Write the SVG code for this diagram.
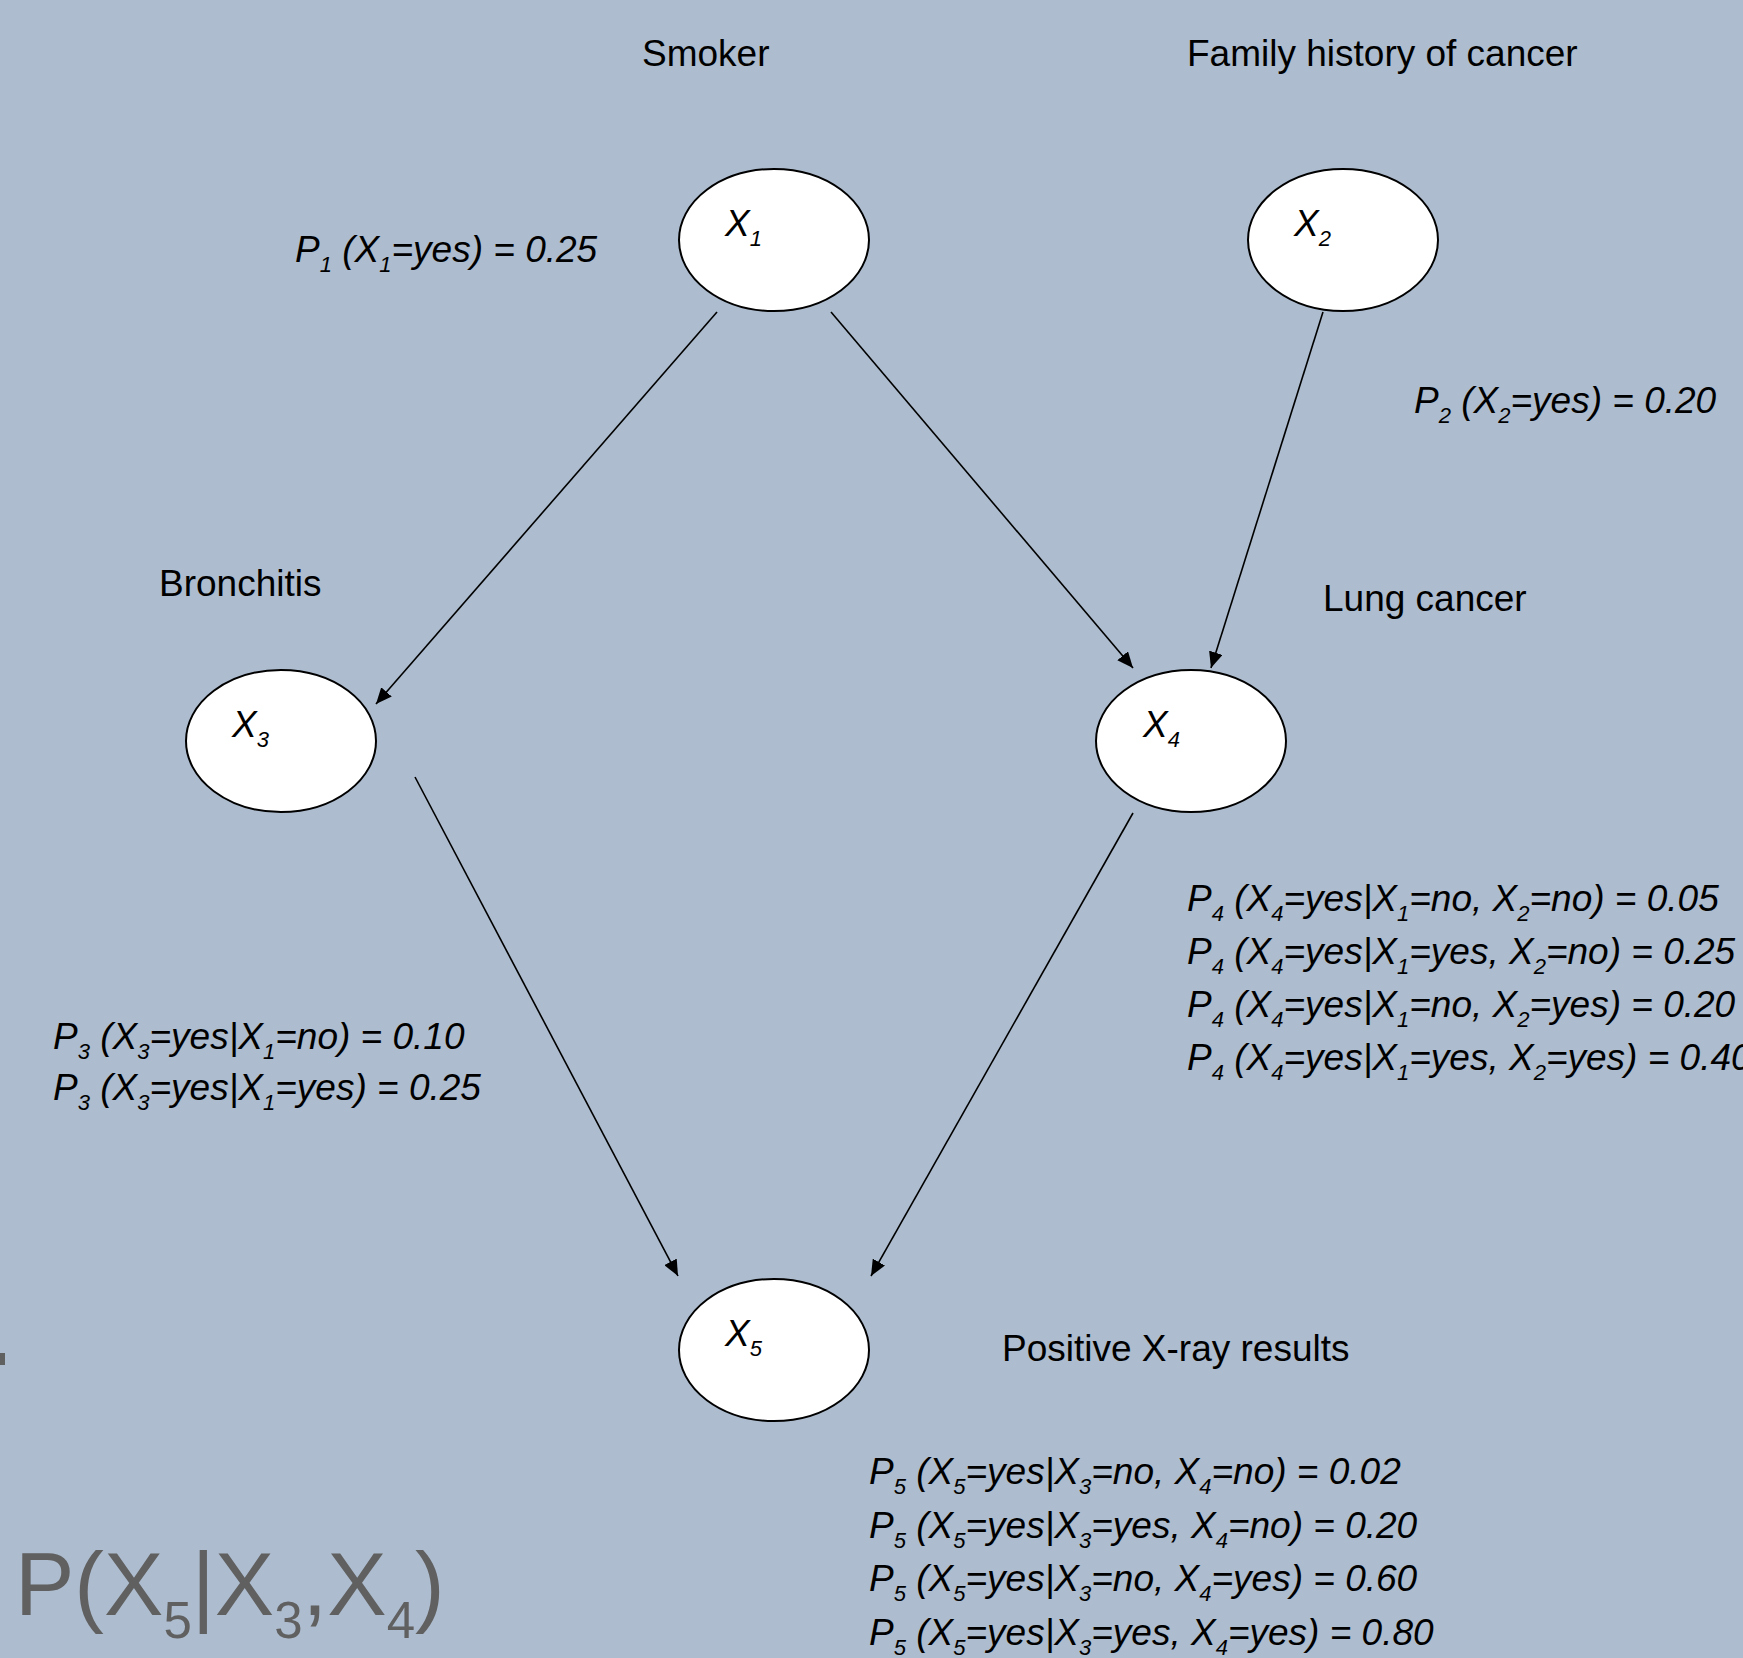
<svg xmlns="http://www.w3.org/2000/svg" width="1743" height="1658" viewBox="0 0 1743 1658">
<style>
.node{fill:#fff;stroke:#000;stroke-width:2}
.t{font-family:"Liberation Sans",Arial,sans-serif;font-size:37px;fill:#000}
.i{font-style:italic}
.s{font-size:22px}
.edge{stroke:#000;stroke-width:1.6;fill:none;marker-end:url(#ah)}
.big{font-family:"Liberation Sans",Arial,sans-serif;font-size:89px;fill:#606060}
.bs{font-size:51px}
</style>
<defs>
<marker id="ah" markerUnits="userSpaceOnUse" markerWidth="18" markerHeight="14" refX="16" refY="7" orient="auto">
<path d="M0,0 L16,7 L0,14 z" fill="#000"/>
</marker>
</defs>
<rect width="1743" height="1658" fill="#adbcce"/>
<g id="connectors">
<line class="edge" x1="717" y1="312" x2="376" y2="704"/>
<line class="edge" x1="831" y1="312" x2="1133" y2="668"/>
<line class="edge" x1="1323" y1="312" x2="1211" y2="668"/>
<line class="edge" x1="415" y1="777" x2="678" y2="1276"/>
<line class="edge" x1="1133" y1="813" x2="871" y2="1276"/>
</g>
<g id="node-x1">
<ellipse class="node" cx="774" cy="240" rx="95" ry="71"/>
<text class="t i" x="725" y="236">X<tspan class="s" dy="10">1</tspan></text>
</g>
<g id="node-x2">
<ellipse class="node" cx="1343" cy="240" rx="95" ry="71"/>
<text class="t i" x="1294" y="236">X<tspan class="s" dy="10">2</tspan></text>
</g>
<g id="node-x3">
<ellipse class="node" cx="281" cy="741" rx="95" ry="71"/>
<text class="t i" x="232" y="737">X<tspan class="s" dy="10">3</tspan></text>
</g>
<g id="node-x4">
<ellipse class="node" cx="1191" cy="741" rx="95" ry="71"/>
<text class="t i" x="1143" y="737">X<tspan class="s" dy="10">4</tspan></text>
</g>
<g id="node-x5">
<ellipse class="node" cx="774" cy="1350" rx="95" ry="71"/>
<text class="t i" x="725" y="1346">X<tspan class="s" dy="10">5</tspan></text>
</g>
<g id="labels">
<text class="t" x="642" y="66">Smoker</text>
<text class="t" x="1187" y="66">Family history of cancer</text>
<text class="t" x="159" y="596">Bronchitis</text>
<text class="t" x="1323" y="611">Lung cancer</text>
<text class="t" x="1002" y="1361">Positive X-ray results</text>
</g>
<g id="probabilities">
<text class="t i" x="295" y="262">P<tspan class="s" dy="10">1</tspan><tspan dy="-10"> (X</tspan><tspan class="s" dy="10">1</tspan><tspan dy="-10">=yes) = 0.25</tspan></text>
<text class="t i" x="1414" y="413">P<tspan class="s" dy="10">2</tspan><tspan dy="-10"> (X</tspan><tspan class="s" dy="10">2</tspan><tspan dy="-10">=yes) = 0.20</tspan></text>
<text class="t i" x="53" y="1049">P<tspan class="s" dy="10">3</tspan><tspan dy="-10"> (X</tspan><tspan class="s" dy="10">3</tspan><tspan dy="-10">=yes|X</tspan><tspan class="s" dy="10">1</tspan><tspan dy="-10">=no) = 0.10</tspan></text>
<text class="t i" x="53" y="1100">P<tspan class="s" dy="10">3</tspan><tspan dy="-10"> (X</tspan><tspan class="s" dy="10">3</tspan><tspan dy="-10">=yes|X</tspan><tspan class="s" dy="10">1</tspan><tspan dy="-10">=yes) = 0.25</tspan></text>
<text class="t i" x="1187" y="911">P<tspan class="s" dy="10">4</tspan><tspan dy="-10"> (X</tspan><tspan class="s" dy="10">4</tspan><tspan dy="-10">=yes|X</tspan><tspan class="s" dy="10">1</tspan><tspan dy="-10">=no, X</tspan><tspan class="s" dy="10">2</tspan><tspan dy="-10">=no) = 0.05</tspan></text>
<text class="t i" x="1187" y="964">P<tspan class="s" dy="10">4</tspan><tspan dy="-10"> (X</tspan><tspan class="s" dy="10">4</tspan><tspan dy="-10">=yes|X</tspan><tspan class="s" dy="10">1</tspan><tspan dy="-10">=yes, X</tspan><tspan class="s" dy="10">2</tspan><tspan dy="-10">=no) = 0.25</tspan></text>
<text class="t i" x="1187" y="1017">P<tspan class="s" dy="10">4</tspan><tspan dy="-10"> (X</tspan><tspan class="s" dy="10">4</tspan><tspan dy="-10">=yes|X</tspan><tspan class="s" dy="10">1</tspan><tspan dy="-10">=no, X</tspan><tspan class="s" dy="10">2</tspan><tspan dy="-10">=yes) = 0.20</tspan></text>
<text class="t i" x="1187" y="1070">P<tspan class="s" dy="10">4</tspan><tspan dy="-10"> (X</tspan><tspan class="s" dy="10">4</tspan><tspan dy="-10">=yes|X</tspan><tspan class="s" dy="10">1</tspan><tspan dy="-10">=yes, X</tspan><tspan class="s" dy="10">2</tspan><tspan dy="-10">=yes) = 0.40</tspan></text>
<text class="t i" x="869" y="1484">P<tspan class="s" dy="10">5</tspan><tspan dy="-10"> (X</tspan><tspan class="s" dy="10">5</tspan><tspan dy="-10">=yes|X</tspan><tspan class="s" dy="10">3</tspan><tspan dy="-10">=no, X</tspan><tspan class="s" dy="10">4</tspan><tspan dy="-10">=no) = 0.02</tspan></text>
<text class="t i" x="869" y="1538">P<tspan class="s" dy="10">5</tspan><tspan dy="-10"> (X</tspan><tspan class="s" dy="10">5</tspan><tspan dy="-10">=yes|X</tspan><tspan class="s" dy="10">3</tspan><tspan dy="-10">=yes, X</tspan><tspan class="s" dy="10">4</tspan><tspan dy="-10">=no) = 0.20</tspan></text>
<text class="t i" x="869" y="1591">P<tspan class="s" dy="10">5</tspan><tspan dy="-10"> (X</tspan><tspan class="s" dy="10">5</tspan><tspan dy="-10">=yes|X</tspan><tspan class="s" dy="10">3</tspan><tspan dy="-10">=no, X</tspan><tspan class="s" dy="10">4</tspan><tspan dy="-10">=yes) = 0.60</tspan></text>
<text class="t i" x="869" y="1645">P<tspan class="s" dy="10">5</tspan><tspan dy="-10"> (X</tspan><tspan class="s" dy="10">5</tspan><tspan dy="-10">=yes|X</tspan><tspan class="s" dy="10">3</tspan><tspan dy="-10">=yes, X</tspan><tspan class="s" dy="10">4</tspan><tspan dy="-10">=yes) = 0.80</tspan></text>
</g>
<g id="formula">
<rect x="0" y="1353" width="5" height="12" fill="#606060"/>
<text class="big" x="15" y="1615">P(X<tspan class="bs" dy="23">5</tspan><tspan dy="-23">|X</tspan><tspan class="bs" dy="23">3</tspan><tspan dy="-23">,X</tspan><tspan class="bs" dy="23">4</tspan><tspan dy="-23">)</tspan></text>
</g>
</svg>
